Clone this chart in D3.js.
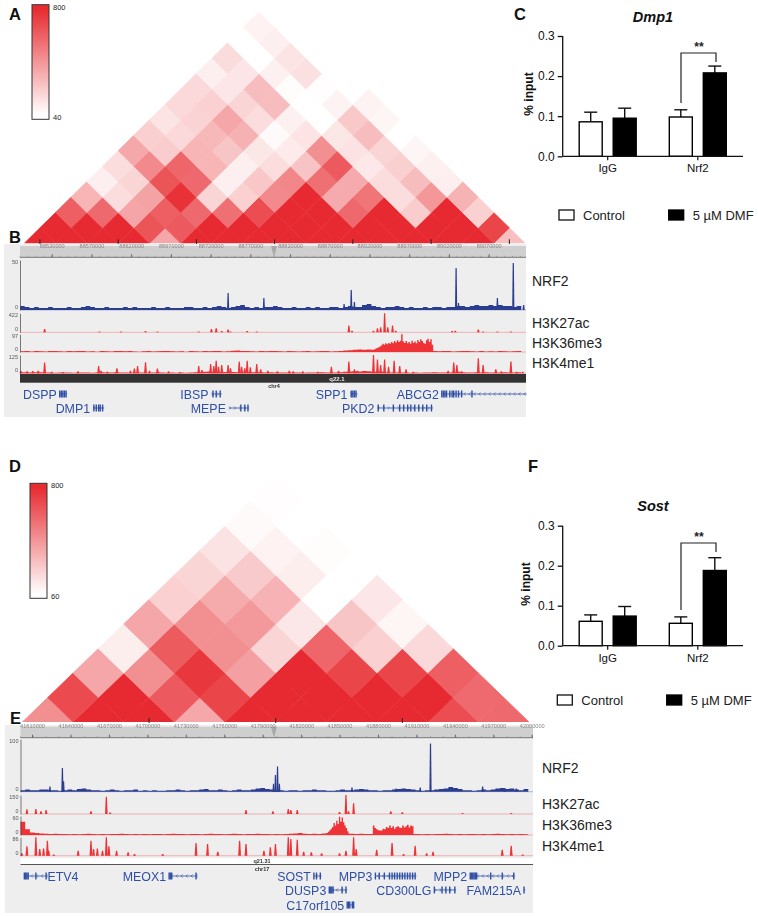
<!DOCTYPE html>
<html><head><meta charset="utf-8">
<script src="https://cdn.jsdelivr.net/npm/d3@7"></script>
<style>
html,body{margin:0;padding:0;background:#fff}
svg{display:block;font-family:"Liberation Sans",Arial,sans-serif}
</style></head><body><div id="c"></div>
<script>
// ---------- Heatmaps: contact values listed per off-diagonal distance ----------
const hicA = [
 [800,800,800,800,360,800,800,800,800,800,800,800,800,800,800,270],
 [800,800,800,655,635,800,800,800,800,800,800,800,800,800,710],
 [620,580,365,620,580,558,677,800,800,580,800,220,800,210],
 [308,163,373,775,192,210,464,800,344,540,163,416,315],
 [98,192,655,580,100,243,474,558,344,163,283,98],
 [163,464,590,308,98,163,257,634,123,214,94],
 [355,221,308,250,127,116,445,145,192,73],
 [214,181,297,319,58,141,127,283,40],
 [141,199,362,163,94,40,235,76],
 [181,210,192,279,40,83,83],
 [181,130,279,51,47,40],
 [100,134,94,152,40],
 [167,40,141,40],
 [40,100,40],
 [87,40],
 [40]];
const hicD = [
 [454,800,800,370,800,800,800,800,680,585],
 [690,800,640,711,800,800,800,800,581],
 [373,454,753,394,800,711,711,623],
 [120,634,454,208,595,225,197],
 [373,454,416,144,264,95],
 [225,359,331,60,148],
 [208,247,120,60],
 [159,106,70],
 [78,60],
 [67]];
const hicAExtent = [40,800], hicDExtent = [60,800];
const hicATicks = [1,6,11,16,21,26,31], hicDTicks = [5,10,15];

// ---------- Genome tracks (kb from window start) ----------
const tickKbB = [40,90,140,190,240,290,340,390,440,490,540,590];
const tickLabelsB = ["88520000","88570000","88620000","88670000","88720000","88770000","88820000","88870000","88920000","88970000","89020000","89070000"];
const tickKbE = [10,40,70,100,130,160,190,220,250,280,310,340,370,400];
const tickLabelsE = ["41610000","41640000","41670000","41700000","41730000","41760000","41790000","41820000","41850000","41880000","41910000","41940000","41970000","42000000"];

const nrf2BBase = [4,3,2,3,2,2,3,2,2,2,3,2,2,3,4,3,2,2,3,2,2,2,3,2,3,2,2,2,3,2,2,3,2,2,2,3,3,2,2,3,2,3,4,3,2,3,4,5,3,2,3,2,3,3,4,3,2,2,3,2,2,3,2,3,2,2,3,3,2,3,4,3,3,5,6,4,3,2,3,3,4,3,2,3,2,2,3,2,3,3,2,3,3,4,4,3,4,5,4,4,5,4,5,4,4,3,4,5];
const nrf2BPos = [262,307,417,408,421,549,552,601,621,634];
const nrf2BVal = [17,12,20,6,8,42,7,12,47,5];
const k27BPos = [31,100,127,158,173,225,241,247,254,262,265,286,298,414,418,445,450,454,459,463,469,473,544,548,577,583,601,618];
const k27BVal = [75,15,15,30,20,20,75,90,30,60,20,30,20,150,35,35,90,110,422,110,150,35,30,35,60,20,15,20];
const k36BBase = [4,5,3,6,4,3,5,6,4,3,5,4,6,5,3,4,2,5,4,3,5,6,4,5,3,2,4,5,3,4,6,5,4,3,4,2,5,4,3,5,4,6,5,3,4,7,8,6,5,4,3,5,4,5,6,4,3,5,4,3,4,5,3,4,6,5,3,4,5,8,9,12,14,12,14,12,10,9,6,5,7,6,4,5,3,4,6,8,5,4,6,5,3,4,5,6,4,3,5,3,4,3,5,4,3,4,5,4];
const k36BHump = [12,18,22,25,30,35,45,40,48,42,50,45,55,48,60,52,65,55,62,97,58,50,60,48,55,45,62,50,58,48,66,55,70,60,50,45,65,72,55,70,40,15];
const k36BHumpStart = 445, k36BHumpEnd = 522;
const k4BBase = [8,7,6,8,7,5,6,4,5,6,5,4,5,6,5,4,5,7,6,5,7,6,5,4,5,6,5,4,6,7,5,4,5,4,5,4,6,7,8,10,12,9,7,9,10,9,7,10,9,7,9,7,6,7,6,5,6,5,6,5,4,5,6,5,7,6,5,6,8,10,13,14,13,16,14,11,13,10,8,6,5,6,5,4,5,4,5,6,7,5,6,5,8,10,7,6,5,7,6,8,6,5,6,7,5,6,7,8];
const k4BPos = [1,9,16,23,31,40,54,73,99,102,110,122,139,144,148,158,163,173,187,201,225,229,240,244,247,250,254,262,265,276,279,283,286,290,298,303,312,324,339,344,356,375,392,401,414,421,425,445,450,454,459,464,471,478,486,495,539,546,550,556,577,583,599,606,618,625,633];
const k4BVal = [18,14,16,18,73,11,9,14,50,18,11,34,18,32,50,75,18,32,14,9,50,23,64,50,86,45,57,57,34,80,45,34,86,41,64,27,18,14,18,14,14,11,45,18,80,27,18,125,95,57,95,45,86,50,27,11,18,73,57,14,102,57,27,14,80,11,11];

const nrf2EBase = [3,4,3,3,4,4,3,3,2,3,4,3,5,6,4,3,3,2,3,4,3,2,3,3,4,2,3,2,3,2,2,3,3,4,3,2,3,3,4,5,3,3,4,3,2,3,4,3,3,4,6,7,5,4,3,3,2,3,3,2,3,3,4,3,3,2,2,3,4,3,3,4,5,4,3,3,2,3,3,4,5,6,5,4,3,2,3,3,4,5,6,9,7,5,3,3,2,3,4,3,4,6,7,5,6,4,3,5,3];
const nrf2EPos = [24,33.7,34.6,198.5,200,201.6,203,259.7,294,313,321,361.7,379,388];
const nrf2EVal = [10,45,20,15,32,48,15,8,6,8,92,10,7,6];
const k27EPos = [6,13,17,21,56,68,71,177,198,210,212,217,250,255,257,261,290,299,346,384];
const k27EVal = [37,39,21,32,21,137,11,32,21,39,32,32,16,150,21,84,21,13,8,8];
const k36EBase = [42,18,8,6,5,4,3,4,3,3,2,3,2,3,4,3,2,3,2,3,3,4,3,2,3,2,3,2,3,3,2,3,4,3,3,2,3,3,2,3,4,3,3,2,3,4,3,2,3,3,4,3,3,2,3,2,3,4,5,6,4,3,4,3,5,6,5,6,4,5,4,3,4,3,3,4,3,3,2,3,3,4,2,3,3,2,3,2,3,3,4,3,2,3,2,3,3,2,3,2,3,4,3,2,3,2,3,2,3];
const k36EHump1 = [10,15,20,25,38,30,45,35,58,42,55,40,30,22,12,8];
const k36EHump1Start = 241, k36EHump1End = 258;
const k36EHump2 = [30,22,18,15,14,14,20,18,25,22,30,22,28,20,25,28,24,22,30,24,28,32,24,30,28,15];
const k36EHump2Start = 276, k36EHump2End = 309;
const k4EPos = [2,6,13,16,19,22,23,27,46,56,58,61,65,68,70,76,85,90,112,138,147,155,172,177,191,196,200,210,212,217,222,228,236,250,255,261,263,279,291,300,309,318,323,377,384,393];
const k4EVal = [12,44,86,31,34,70,23,6,23,70,31,34,23,86,44,23,16,8,8,59,55,19,70,55,23,39,55,86,78,75,19,16,12,12,23,86,31,28,59,8,47,12,19,28,47,6];

// ---------- Genes ----------
const genesBNames = ["DSPP","DMP1","IBSP","MEPE","SPP1","PKD2","ABCG2"];
const genesBStart = [50,92,241,263,416,450,531];
const genesBEnd = [59,106,254,288,425,520,638];
const genesBRow = [0,1,0,1,0,1,0];
const genesBDir = [1,1,1,1,1,1,-1];
const genesBExons = [[50,52,54,56,58],[93,96,99,101,104],[243,247,252],[278,283,287],[417,419,421,423],[451,458,470,478,483,488,492,497,502,507,512,518],[531,533,535,537,541,544,546,549,552,556,569]];
const genesENames = ["ETV4","MEOX1","SOST","MPP3","MPP2","DUSP3","CD300LG","FAM215A","C17orf105"];
const genesEStart = [4,117,230,278,352,242,324,394,256];
const genesEEnd = [22,139,236,310,387,256,341,395,261];
const genesERow = [0,0,0,0,0,1,1,1,2];
const genesEDir = [-1,-1,-1,-1,-1,-1,1,1,1];
const genesEExons = [[4,5,6,7,13,21],[117,118,119,138],[230,232,235],[278,281,285,289,291,293,295,297,299,301,303,305,307,309],[352,353,354,355,356,357,368,377,386],[242,243,244,245,252,255],[324,330,333,336,340],[394],[256,257,258,260,261]];

// ---------- Bar panels ----------
const barGroups = ["IgG","Nrf2"];
const barSeries = ["Control","5 µM DMF"];
const dmp1Means = [0.086,0.095,0.098,0.208];
const dmp1Tops = [0.110,0.120,0.116,0.225];
const sostMeans = [0.061,0.074,0.056,0.188];
const sostTops = [0.077,0.098,0.072,0.220];
const barTicks = [0,0.1,0.2,0.3];

// ---------- Drawing ----------
const W=758,H=916;
const svg=d3.select("#c").append("svg").attr("width",W).attr("height",H);
const defs=svg.append("defs");
const RED="#e72c31";
const soft=defs.append("filter").attr("id","soft").attr("x","-2%").attr("y","-2%").attr("width","104%").attr("height","104%");
soft.append("feGaussianBlur").attr("stdDeviation",0.4);

function panelLetter(t,x,y){svg.append("text").attr("x",x).attr("y",y).attr("font-size",16.5).attr("font-weight","bold").attr("fill","#111").text(t);}

function heat(id,data,extent,x0,x1,base,hh,ticks,bar,labels){
  const n=data.length;
  const kx=d3.scaleLinear().domain([0,2*n]).range([x0,x1]);
  const dy=d3.scaleLinear().domain([0,n]).range([base,base-hh*n]);
  const col=d3.scaleLinear().domain(extent).range(["#ffffff",RED]);
  const clip=defs.append("clipPath").attr("id","clip"+id);
  clip.append("rect").attr("x",x0-2).attr("y",0).attr("width",x1-x0+4).attr("height",base);
  const g=svg.append("g").attr("clip-path",`url(#clip${id})`).append("g").attr("filter","url(#soft)");
  data.forEach((row,d)=>{
    g.selectAll(null).data(row).enter().append("path")
      .attr("fill",v=>col(v)).attr("stroke",v=>v<=extent[0]?"none":col(v)).attr("stroke-width",0.8)
      .attr("d",(v,i)=>{
        const k=2*i+d+1;
        return "M"+[[kx(k-1),dy(d)],[kx(k),dy(d+1)],[kx(k+1),dy(d)],[kx(k),dy(d-1)]].join("L")+"Z";
      });
  });
  svg.append("g").selectAll("line").data(ticks).enter().append("line")
    .attr("x1",d=>kx(d)).attr("x2",d=>kx(d)).attr("y1",base-4).attr("y2",base+1).attr("stroke","#222").attr("stroke-width",1);
  const gr=defs.append("linearGradient").attr("id","grad"+id).attr("x1",0).attr("x2",0).attr("y1",1).attr("y2",0);
  gr.append("stop").attr("offset","4%").attr("stop-color","#fff");
  gr.append("stop").attr("offset","96%").attr("stop-color",RED);
  svg.append("rect").attr("x",bar.x).attr("y",bar.y).attr("width",bar.w).attr("height",bar.h)
    .attr("fill",`url(#grad${id})`).attr("stroke","#333").attr("stroke-width",1);
  svg.append("text").attr("x",bar.x+bar.w+4).attr("y",bar.y+5).attr("font-size",7.5).attr("fill","#222").text(labels[1]);
  svg.append("text").attr("x",bar.x+bar.w+4).attr("y",bar.y+bar.h+1).attr("font-size",7.5).attr("fill","#222").text(labels[0]);
}

function track(g,x,top,bot,maxV,maxLabel,col,base,peaks,humps,peakW){
  const y=d3.scaleLinear().domain([0,maxV]).range([bot,top]).clamp(true);
  const dom=x.domain();
  const g2=g.append("g");
  g2.append("line").attr("x1",x.range()[0]).attr("x2",x.range()[1]).attr("y1",bot).attr("y2",bot).attr("stroke",col).attr("stroke-opacity",0.4).attr("stroke-width",0.8);
  if(base){
    const bx=d3.scaleLinear().domain([0,base.length]).range(dom);
    const area=d3.area().x((d,i)=>x(bx(i))).y0(bot).y1(d=>y(d)).curve(d3.curveStepAfter);
    g2.append("path").datum(base).attr("fill",col).attr("d",area);
  }
  (humps||[]).forEach(h=>{
    const hx=d3.scaleLinear().domain([0,h.v.length]).range([h.a,h.b]);
    g2.append("path").datum(h.v).attr("fill",col).attr("d",d3.area().x((d,i)=>x(hx(i))).y0(bot).y1(d=>y(d)).curve(d3.curveStepAfter));
  });
  g2.selectAll(null).data(peaks.pos).enter().append("path")
    .attr("fill",col)
    .attr("d",(d,i)=>{const px=x(d),py=y(peaks.val[i]);
      return `M${px-peakW},${bot}L${px-0.6},${py}L${px+0.6},${py}L${px+peakW},${bot}Z`;});
  const ax=d3.axisLeft(d3.scaleLinear().domain([0,maxV]).range([bot,top])).tickValues([0,maxV]).tickSize(0).tickFormat(d=>d===0?"0":maxLabel);
  const a=g.append("g").attr("transform",`translate(${x.range()[0]},0)`).call(ax);
  a.selectAll("text").attr("font-size",5.5).attr("fill","#555").attr("x",-2)
    .attr("dy",d=>d===0?"-1.5":"3.6").attr("font-family","Liberation Sans");
  a.selectAll("path").attr("stroke","#444").attr("stroke-width",0.7);
}

function ruler(g,x,y0,y1,kb,labels,mark){
  g.append("rect").attr("x",x.range()[0]).attr("y",y0).attr("width",x.range()[1]-x.range()[0]).attr("height",y1-y0).attr("fill","#cfcfcf");
  g.append("path").attr("d",`M${mark-3},${y0}H${mark+3}L${mark},${y1}Z`).attr("fill","#a8a8a8");
  g.append("g").selectAll("line").data(d3.range(x.domain()[0],x.domain()[1],10)).enter().append("line")
    .attr("x1",d=>x(d)).attr("x2",d=>x(d)).attr("y1",y1-1.5).attr("y2",y1).attr("stroke","#777").attr("stroke-width",0.5);
  const ax=d3.axisBottom(x).tickValues(kb).tickSize(3).tickFormat((d,i)=>labels[i]);
  const a=g.append("g").attr("transform",`translate(0,${y1-3})`).call(ax);
  a.selectAll("text").attr("y",-6.5).attr("dy",0).attr("font-size",5.6).attr("fill","#888").attr("font-family","Liberation Sans");
  a.selectAll("line").attr("stroke","#666");
  a.select("path").attr("stroke","#777").attr("d",`M${x.range()[0]},3H${x.range()[1]}`);
}

function genes(g,x,names,st,en,rows,dirs,exons,rowY,custom){
  const BLUE="#2e4fa6";
  names.forEach((nm,i)=>{
    const y=rowY[rows[i]];
    const a=x(st[i]),b=x(en[i]);
    const gg=g.append("g");
    gg.append("line").attr("x1",a).attr("x2",b).attr("y1",y).attr("y2",y).attr("stroke",BLUE).attr("stroke-width",0.8);
    d3.range(a+2,b-1,5).forEach(cx=>{
      const s=dirs[i]*1.6;
      gg.append("path").attr("d",`M${cx-s},${y-1.6}L${cx},${y}L${cx-s},${y+1.6}`).attr("fill","none").attr("stroke",BLUE).attr("stroke-width",0.6);
    });
    gg.selectAll("rect").data(exons[i]).enter().append("rect")
      .attr("x",d=>x(d)-0.7).attr("width",1.4).attr("y",y-3.5).attr("height",7).attr("fill",BLUE);
    const after=custom&&custom[nm]==="after";
    g.append("text").attr("x",after?b:a-3).attr("y",y+4.5).attr("text-anchor",after?"start":"end")
      .attr("font-size",12.4).attr("fill",BLUE).text(nm);
  });
}

function bars(o){
  const g=svg.append("g");
  const y=d3.scaleLinear().domain([0,0.3]).range([o.y0,o.y3]);
  const gx=d3.scalePoint().domain(barGroups).range([607.7,697.8]);
  const sx=d3.scalePoint().domain(barSeries).range([-17,17]);
  const bw=23;
  const cells=barGroups.flatMap(a=>barSeries.map(b=>[a,b]));
  o.means.forEach((m,i)=>{
    const cx=gx(cells[i][0])+sx(cells[i][1]);
    g.append("line").attr("x1",cx).attr("x2",cx).attr("y1",y(m)).attr("y2",y(o.tops[i])).attr("stroke","#111").attr("stroke-width",1.4);
    g.append("line").attr("x1",cx-6.5).attr("x2",cx+6.5).attr("y1",y(o.tops[i])).attr("y2",y(o.tops[i])).attr("stroke","#111").attr("stroke-width",1.4);
    g.append("rect").attr("x",cx-bw/2).attr("y",y(m)).attr("width",bw).attr("height",o.y0-y(m))
      .attr("fill",i%2?"#000":"#fff").attr("stroke","#000").attr("stroke-width",1.4);
  });
  const ay=g.append("g").attr("transform",`translate(${o.axL},0)`).call(d3.axisLeft(y).tickValues(barTicks).tickSize(5).tickFormat(d3.format(".1f")));
  ay.selectAll("text").attr("font-size",12).attr("fill","#111").attr("font-family","Liberation Sans");
  ay.selectAll("line,path").attr("stroke","#111").attr("stroke-width",1.3);
  ay.select("path").attr("d",`M0,${y(0)}V${y(0.3)}`);
  g.append("line").attr("x1",o.axL).attr("x2",743).attr("y1",o.y0).attr("y2",o.y0).attr("stroke","#111").attr("stroke-width",1.3);
  barGroups.forEach(b=>{
    const px=gx(b);
    g.append("line").attr("x1",px).attr("x2",px).attr("y1",o.y0).attr("y2",o.y0+4).attr("stroke","#111").attr("stroke-width",1.2);
    g.append("text").attr("x",px).attr("y",o.y0+16).attr("text-anchor","middle").attr("font-size",11.5).attr("fill","#111").text(b);
  });
  g.append("text").attr("x",653).attr("y",o.titleY).attr("text-anchor","middle").attr("font-size",14.5).attr("font-weight","bold").attr("font-style","italic").attr("fill","#111").text(o.title);
  g.append("text").attr("transform",`translate(${o.ylabX},${o.ylabY}) rotate(-90)`).attr("text-anchor","middle").attr("font-size",12).attr("font-weight","bold").attr("fill","#111").text("% input");
  g.append("path").attr("d",`M681,${o.br[0]}V${o.br[1]}H716V${o.br[2]}`).attr("fill","none").attr("stroke","#222").attr("stroke-width",1.2);
  g.append("text").attr("x",699).attr("y",o.br[1]-2).attr("text-anchor","middle").attr("font-size",12).attr("font-weight","bold").attr("fill","#222").text("**");
  g.append("rect").attr("x",o.lg[0]).attr("y",o.lgY).attr("width",15).attr("height",10).attr("fill","#fff").attr("stroke","#111").attr("stroke-width",1.3);
  g.append("text").attr("x",o.lg[0]+24).attr("y",o.lgY+10).attr("font-size",13).attr("fill","#222").text(barSeries[0]);
  g.append("rect").attr("x",o.lg[1]).attr("y",o.lgY).attr("width",15).attr("height",10).attr("fill","#000").attr("stroke","#000").attr("stroke-width",1.3);
  g.append("text").attr("x",o.lg[1]+24).attr("y",o.lgY+10).attr("font-size",13).attr("fill","#222").text(barSeries[1]);
}

// Panel A + D heatmaps
heat("A",hicA,hicAExtent,24.3,525,243.3,15.43,hicATicks,{x:32,y:4.7,w:17,h:114.6},["40","800"]);
heat("D",hicD,hicDExtent,22.4,529,722,24.5,hicDTicks,{x:30,y:483.3,w:17,h:115},["60","800"]);

// Panel B
const gB=svg.append("g").attr("filter","url(#soft)");
gB.append("rect").attr("x",4).attr("y",244).attr("width",522).attr("height",173).attr("fill","#eeeeee");
const xB=d3.scaleLinear().domain([0,637]).range([20,526]);
ruler(gB,xB,246,257.3,tickKbB,tickLabelsB,274);
const NAVY="#2b3d8f", TR="#ee3034";
track(gB,xB,260,310,50,"50",NAVY,nrf2BBase,{pos:nrf2BPos,val:nrf2BVal},null,1.1);
track(gB,xB,313.3,332.3,422,"422",TR,null,{pos:k27BPos,val:k27BVal},null,1.3);
track(gB,xB,334.3,352,97,"97",TR,k36BBase,{pos:[],val:[]},[{a:k36BHumpStart,b:k36BHumpEnd,v:k36BHump}],1);
track(gB,xB,355,373.3,125,"125",TR,k4BBase,{pos:k4BPos,val:k4BVal},null,1.4);
gB.append("rect").attr("x",20).attr("y",374).attr("width",506).attr("height",8.7).attr("fill","#333");
gB.append("text").attr("x",337).attr("y",380.5).attr("text-anchor","middle").attr("font-size",6).attr("font-weight","bold").attr("fill","#eee").text("q22.1");
gB.append("text").attr("x",274).attr("y",388).attr("text-anchor","middle").attr("font-size",5.5).attr("font-weight","bold").attr("fill","#333").text("chr4");
genes(gB,xB,genesBNames,genesBStart,genesBEnd,genesBRow,genesBDir,genesBExons,[394,408]);

// Panel E
const gE=svg.append("g").attr("filter","url(#soft)");
gE.append("rect").attr("x",4.8).attr("y",725).attr("width",528.2).attr("height",188).attr("fill","#eeeeee");
const xE=d3.scaleLinear().domain([1,401]).range([20.5,533]);
ruler(gE,xE,726.7,737.7,tickKbE,tickLabelsE,274);
track(gE,xE,739.3,791.7,100,"100",NAVY,nrf2EBase,{pos:nrf2EPos,val:nrf2EVal},null,1.1);
track(gE,xE,795,814,150,"150",TR,null,{pos:k27EPos,val:k27EVal},null,1.3);
track(gE,xE,816,835,60,"60",TR,k36EBase,{pos:[],val:[]},[{a:k36EHump1Start,b:k36EHump1End,v:k36EHump1},{a:k36EHump2Start,b:k36EHump2End,v:k36EHump2}],1);
track(gE,xE,837.3,855.7,86,"86",TR,null,{pos:k4EPos,val:k4EVal},null,1.4);
gE.append("rect").attr("x",20.5).attr("y",858).attr("width",512.5).attr("height",6.5).attr("fill","#fff");
gE.append("line").attr("x1",20.5).attr("x2",533).attr("y1",864.5).attr("y2",864.5).attr("stroke","#555");
gE.append("text").attr("x",262).attr("y",862.8).attr("text-anchor","middle").attr("font-size",5.5).attr("font-weight","bold").attr("fill","#333").text("q21.31");
gE.append("text").attr("x",262).attr("y",871).attr("text-anchor","middle").attr("font-size",5.5).attr("font-weight","bold").attr("fill","#333").text("chr17");
genes(gE,xE,genesENames,genesEStart,genesEEnd,genesERow,genesEDir,genesEExons,[876,890,905],{ETV4:"after"});

// Track names
[["NRF2",281],["H3K27ac",323],["H3K36me3",343],["H3K4me1",363]].forEach(([t,y])=>{
  svg.append("text").attr("x",532).attr("y",y+5).attr("font-size",14).attr("fill","#222").text(t);
});
[["NRF2",768],["H3K27ac",804],["H3K36me3",825],["H3K4me1",846]].forEach(([t,y])=>{
  svg.append("text").attr("x",542).attr("y",y+5).attr("font-size",14).attr("fill","#222").text(t);
});

bars({means:dmp1Means,tops:dmp1Tops,title:"Dmp1",axL:562.7,y0:156.3,y3:36,titleY:22,ylabX:533,ylabY:94,br:[103,53,62],lg:[559,668.7],lgY:210});
bars({means:sostMeans,tops:sostTops,title:"Sost",axL:562.7,y0:645.7,y3:525.7,titleY:511,ylabX:530,ylabY:584,br:[610,543,552],lg:[557.3,666.7],lgY:695});

panelLetter("A",9,20);panelLetter("B",9,243);panelLetter("C",514,20);
panelLetter("D",9,472);panelLetter("E",10,724);panelLetter("F",528,472);
</script></body></html>
